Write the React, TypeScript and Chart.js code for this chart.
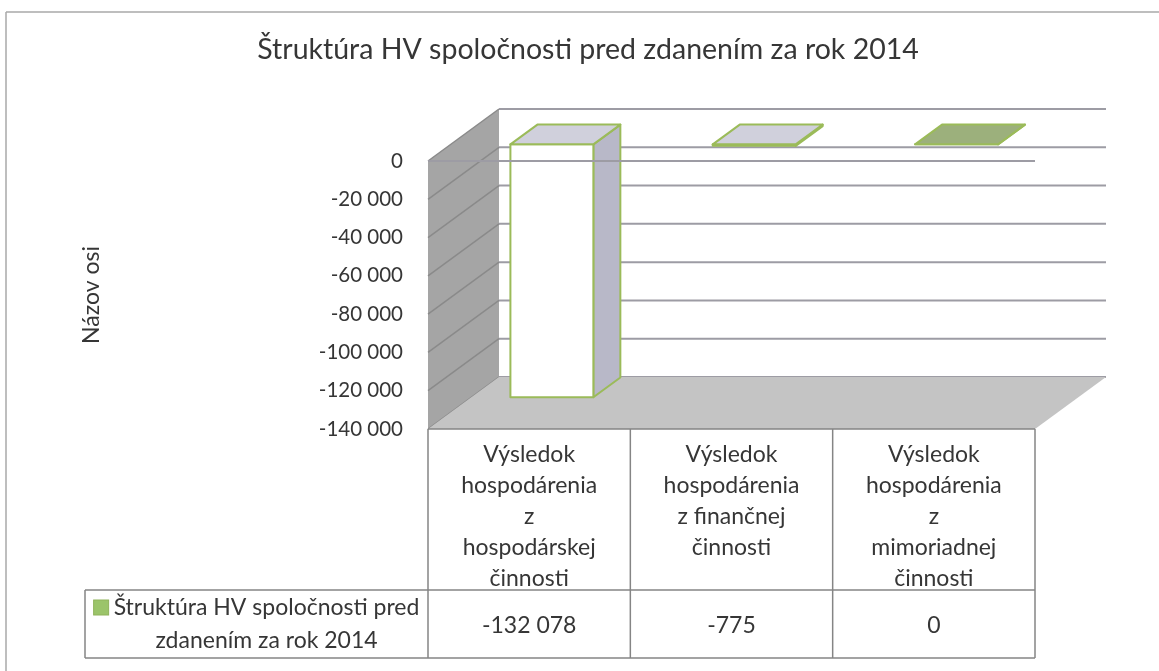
import React, { useEffect, useRef } from "react";
import { Chart, registerables } from "chart.js";

Chart.register(...registerables);

// ---------- data ----------
const TITLE = "Štruktúra HV spoločnosti pred zdanením za rok 2014";
const AXIS_TITLE = "Názov osi";
const SERIES_NAME = "Štruktúra HV spoločnosti pred zdanením za rok 2014";
const CATEGORIES = [
  ["Výsledok", "hospodárenia", "z", "hospodárskej", "činnosti"],
  ["Výsledok", "hospodárenia", "z finančnej", "činnosti"],
  ["Výsledok", "hospodárenia", "z", "mimoriadnej", "činnosti"],
];
const VALUES = [-132078, -775, 0];
const Y_MIN = -140000;
const Y_MAX = 0;
const Y_STEP = 20000;

// ---------- style ----------
const FONT = "Lato, 'Open Sans', sans-serif";
const TEXT = "#363636";
const GRID = "#9d9ca4";
const WALL = "#a5a5a5";
const WALL_GRID = "#8a8a8a";
const FLOOR = "#c4c4c4";
const TABLE_LINE = "#858585";
const BAR_LINE = "#9bbb59";
const BAR_FRONT = "#ffffff";
const BAR_SIDE = "#b8b8c8";
const BAR_TOPS = ["#d0d0dc", "#d0d0dc", "#9cb07c"];
const KEY_COLOR = "#9bc46a";
const DX = 71;
const DY = -52;
const F_FRONT = 0.32;
const F_BACK = 0.7;
const PAD_LEFT = 74;

const fmt = (v: number) => {
  const s = Math.abs(Math.round(v))
    .toString()
    .replace(/\B(?=(\d{3})+(?!\d))/g, " ");
  return (v < 0 ? "-" : "") + s;
};

function poly(ctx: CanvasRenderingContext2D, pts: number[][], fill: string | null, stroke: string | null, lw = 1) {
  ctx.beginPath();
  ctx.moveTo(pts[0][0], pts[0][1]);
  for (let i = 1; i < pts.length; i++) ctx.lineTo(pts[i][0], pts[i][1]);
  ctx.closePath();
  if (fill) {
    ctx.fillStyle = fill;
    ctx.fill();
  }
  if (stroke) {
    ctx.strokeStyle = stroke;
    ctx.lineWidth = lw;
    ctx.stroke();
  }
}

function line(ctx: CanvasRenderingContext2D, x0: number, y0: number, x1: number, y1: number) {
  ctx.beginPath();
  ctx.moveTo(x0, y0);
  ctx.lineTo(x1, y1);
  ctx.stroke();
}

const excel3d = {
  id: "excel3d",
  beforeDraw(chart: any) {
    const { ctx, width, height } = chart;
    ctx.save();
    ctx.fillStyle = "#ffffff";
    ctx.fillRect(0, 0, width, height);
    ctx.strokeStyle = "#a9a9a9";
    ctx.lineWidth = 1.5;
    line(ctx, 6, 12, width, 12);
    line(ctx, 6, 12, 6, height);
    ctx.restore();
  },
  beforeDatasetsDraw(chart: any) {
    const { ctx } = chart;
    const { left, right, top, bottom } = chart.chartArea;
    const y = chart.scales.y;
    ctx.save();
    // back wall gridlines
    ctx.strokeStyle = GRID;
    ctx.lineWidth = 2;
    y.ticks.forEach((t: any) => {
      const py = y.getPixelForValue(t.value) + DY;
      line(ctx, left + DX, py, right + DX, py);
    });
    // side wall
    poly(ctx, [[left, top], [left + DX, top + DY], [left + DX, bottom + DY], [left, bottom]], WALL, null);
    ctx.strokeStyle = WALL_GRID;
    ctx.lineWidth = 1.5;
    y.ticks.forEach((t: any) => {
      const py = y.getPixelForValue(t.value);
      line(ctx, left, py, left + DX, py + DY);
    });
    // floor
    poly(ctx, [[left, bottom], [right, bottom], [right + DX, bottom + DY], [left + DX, bottom + DY]], FLOOR, null);
    ctx.strokeStyle = TABLE_LINE;
    ctx.lineWidth = 1.5;
    line(ctx, left, bottom, right, bottom);
    ctx.restore();
  },
  afterDatasetsDraw(chart: any) {
    const { ctx } = chart;
    const { left, right } = chart.chartArea;
    const y = chart.scales.y;
    const meta = chart.getDatasetMeta(0);
    ctx.save();
    ctx.lineJoin = "round";
    meta.data.forEach((el: any, i: number) => {
      const p = el.getProps(["x", "y", "base", "width"], true);
      const x0 = p.x - p.width / 2;
      const x1 = p.x + p.width / 2;
      const yTop = Math.min(p.y, p.base);
      const yBot = Math.max(p.y, p.base);
      const fx = F_FRONT * DX, fy = F_FRONT * DY;
      const bx = F_BACK * DX, by = F_BACK * DY;
      poly(ctx, [[x1 + fx, yTop + fy], [x1 + bx, yTop + by], [x1 + bx, yBot + by], [x1 + fx, yBot + fy]], BAR_SIDE, BAR_LINE, 2);
      poly(ctx, [[x0 + fx, yTop + fy], [x1 + fx, yTop + fy], [x1 + fx, yBot + fy], [x0 + fx, yBot + fy]], BAR_FRONT, BAR_LINE, 2);
      poly(ctx, [[x0 + fx, yTop + fy], [x1 + fx, yTop + fy], [x1 + bx, yTop + by], [x0 + bx, yTop + by]], BAR_TOPS[i % BAR_TOPS.length], BAR_LINE, 2);
    });
    // front axis line at zero
    ctx.strokeStyle = GRID;
    ctx.lineWidth = 2;
    const y0 = y.getPixelForValue(0);
    line(ctx, left, y0, right, y0);
    ctx.restore();
  },
  afterDraw(chart: any) {
    const { ctx } = chart;
    const { left, right, bottom } = chart.chartArea;
    const labels: string[][] = chart.data.labels;
    const data: number[] = chart.data.datasets[0].data;
    const n = labels.length;
    const band = (right - left) / n;
    const rowSplit = bottom + 161;
    const tableBottom = bottom + 229;
    const legendLeft = 85;
    ctx.save();
    // title
    ctx.fillStyle = TEXT;
    ctx.font = `28.5px ${FONT}`;
    ctx.textAlign = "center";
    ctx.textBaseline = "middle";
    ctx.fillText(TITLE, 588, 50);
    // table lines
    ctx.strokeStyle = TABLE_LINE;
    ctx.lineWidth = 1.5;
    for (let i = 0; i <= n; i++) line(ctx, left + i * band, bottom, left + i * band, tableBottom);
    line(ctx, legendLeft, rowSplit, right, rowSplit);
    line(ctx, legendLeft, tableBottom, right, tableBottom);
    line(ctx, legendLeft, rowSplit, legendLeft, tableBottom);
    // header text
    ctx.font = `23px ${FONT}`;
    ctx.fillStyle = TEXT;
    labels.forEach((lines, i) => {
      const cx = left + (i + 0.5) * band;
      lines.forEach((t, j) => ctx.fillText(t, cx, bottom + 26 + j * 30.8));
    });
    // values
    data.forEach((v, i) => {
      const cx = left + (i + 0.5) * band;
      ctx.fillText(fmt(v), cx, (rowSplit + tableBottom) / 2 + 2);
    });
    // legend cell
    const name: string = chart.data.datasets[0].label;
    const words = name.split(" ");
    const maxW = 318;
    const wrapped: string[] = [];
    let cur = "";
    words.forEach((w) => {
      const test = cur ? cur + " " + w : w;
      if (ctx.measureText(test).width > maxW && cur) {
        wrapped.push(cur);
        cur = w;
      } else cur = test;
    });
    if (cur) wrapped.push(cur);
    const tw = Math.max(...wrapped.map((t) => ctx.measureText(t).width));
    const keyW = 15, gap = 5;
    const cellCx = (legendLeft + left) / 2;
    const startX = cellCx - (keyW + gap + tw) / 2;
    const textCx = startX + keyW + gap + tw / 2;
    const lh = 33;
    const firstY = (rowSplit + tableBottom) / 2 - ((wrapped.length - 1) * lh) / 2;
    ctx.fillStyle = KEY_COLOR;
    ctx.fillRect(startX, firstY - 7.5, keyW, keyW);
    ctx.strokeStyle = "#8fb35a";
    ctx.lineWidth = 1;
    ctx.strokeRect(startX, firstY - 7.5, keyW, keyW);
    ctx.fillStyle = TEXT;
    wrapped.forEach((t, j) => ctx.fillText(t, textCx, firstY + j * lh));
    ctx.restore();
  },
};

export default function App() {
  const ref = useRef<HTMLCanvasElement>(null);
  useEffect(() => {
    document.body.style.margin = "0";
    const canvas = ref.current!;
    const chart = new Chart(canvas, {
      type: "bar",
      data: {
        labels: CATEGORIES,
        datasets: [
          {
            label: SERIES_NAME,
            data: VALUES,
            backgroundColor: "rgba(0,0,0,0)",
            borderWidth: 0,
            barPercentage: 0.41,
            categoryPercentage: 1,
          },
        ],
      },
      options: {
        responsive: false,
        animation: false,
        layout: { padding: { left: PAD_LEFT, top: 161, right: 124, bottom: 242 } },
        plugins: {
          legend: { display: false },
          tooltip: { enabled: false },
          title: { display: false },
        },
        scales: {
          x: { display: false },
          y: {
            min: Y_MIN,
            max: Y_MAX,
            grid: { display: false, drawTicks: false },
            border: { display: false },
            ticks: {
              stepSize: Y_STEP,
              padding: 25,
              color: TEXT,
              font: { family: FONT, size: 20.5 },
              callback: (v: any) => fmt(Number(v)),
            },
            title: {
              display: true,
              text: AXIS_TITLE,
              color: TEXT,
              font: { family: FONT, size: 23 },
            },
            afterFit: (scale: any) => {
              scale.width = 428 - PAD_LEFT;
            },
          },
        },
      },
      plugins: [excel3d],
    });
    return () => chart.destroy();
  }, []);
  return (
    <div style={{ position: "relative", width: 1159, height: 671 }}>
      <canvas ref={ref} width={1159} height={671} style={{ display: "block" }} />
    </div>
  );
}
